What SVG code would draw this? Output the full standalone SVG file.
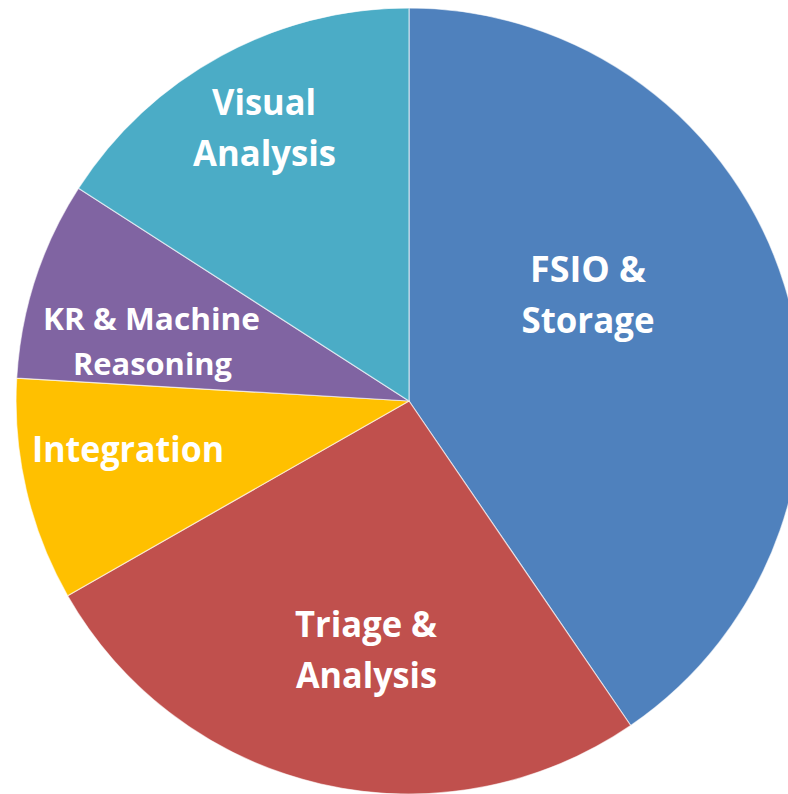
<svg xmlns="http://www.w3.org/2000/svg" width="788" height="794" viewBox="0 0 788 794">
<style>
.s{stroke:#ffffff;stroke-opacity:0.6;stroke-width:1.2;stroke-linejoin:round}
.t{font-family:"Open Sans","Liberation Sans",sans-serif;font-weight:bold;fill:#ffffff;text-anchor:middle}
.big{font-size:35px}
.mid{font-size:31px}
</style>
<rect width="788" height="794" fill="#ffffff"/>
<g id="fsio">
<path class="s" fill="#4F81BD" d="M409,401 L409,8 A393,393 0 0 1 630.7,725.5 Z"/>
<text class="t big" x="588" y="282" textLength="116" lengthAdjust="spacingAndGlyphs">FSIO &amp;</text>
<text class="t big" x="588" y="333" textLength="133" lengthAdjust="spacingAndGlyphs">Storage</text>
</g>
<g id="triage">
<path class="s" fill="#C0504D" d="M409,401 L630.7,725.5 A393,393 0 0 1 67.6,595.7 Z"/>
<text class="t big" x="366" y="637" textLength="142" lengthAdjust="spacingAndGlyphs">Triage &amp;</text>
<text class="t big" x="366.5" y="688" textLength="141" lengthAdjust="spacingAndGlyphs">Analysis</text>
</g>
<g id="integration">
<path class="s" fill="#FFC000" d="M409,401 L67.6,595.7 A393,393 0 0 1 16.7,378.1 Z"/>
<text class="t big" x="128" y="462" textLength="192" lengthAdjust="spacingAndGlyphs">Integration</text>
</g>
<g id="kr">
<path class="s" fill="#8064A2" d="M409,401 L16.7,378.1 A393,393 0 0 1 78.5,188.3 Z"/>
<text class="t mid" x="151.5" y="330" textLength="217" lengthAdjust="spacingAndGlyphs">KR &amp; Machine</text>
<text class="t mid" x="152.5" y="375" textLength="159" lengthAdjust="spacingAndGlyphs">Reasoning</text>
</g>
<g id="visual">
<path class="s" fill="#4BACC6" d="M409,401 L78.5,188.3 A393,393 0 0 1 409,8 Z"/>
<text class="t big" x="264" y="115" textLength="104" lengthAdjust="spacingAndGlyphs">Visual</text>
<text class="t big" x="264.5" y="166" textLength="143" lengthAdjust="spacingAndGlyphs">Analysis</text>
</g>
<g id="connectors"></g>
</svg>
